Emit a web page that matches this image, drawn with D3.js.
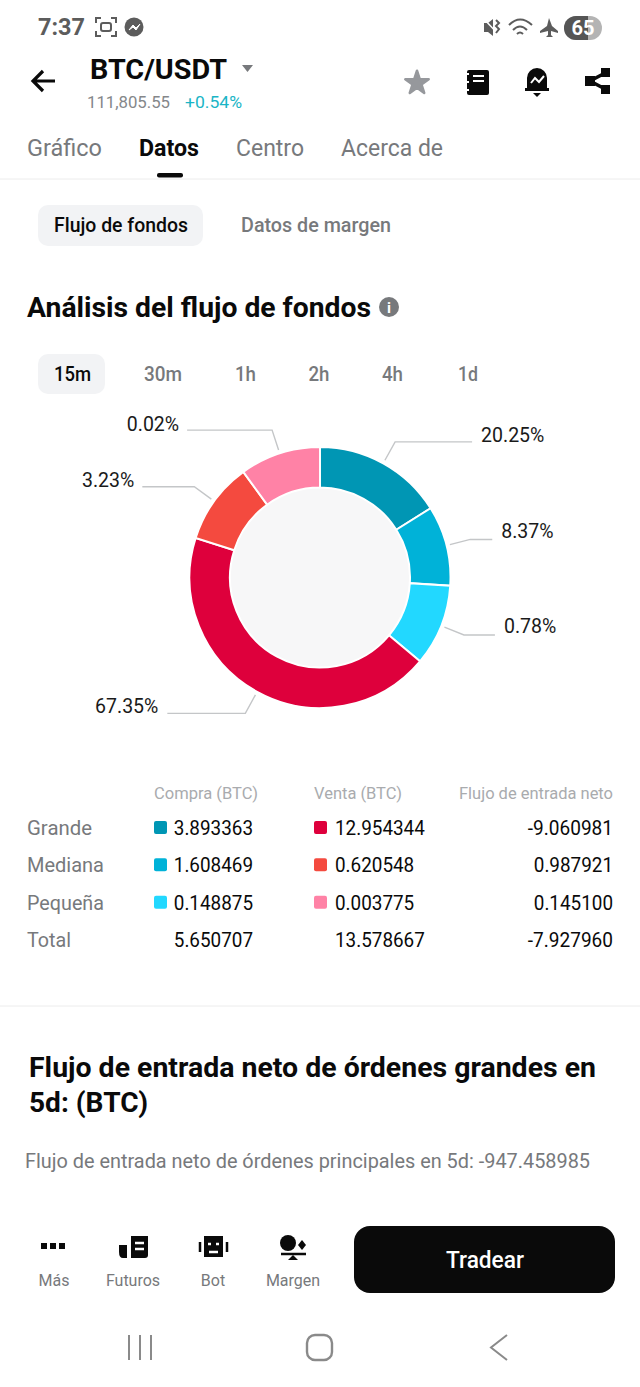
<!DOCTYPE html>
<html>
<head>
<meta charset="utf-8">
<script src="https://cdn.jsdelivr.net/npm/d3@7"></script>
<style>
  html, body { margin: 0; padding: 0; background: #fff; }
  svg { display: block; }
  text { font-family: Roboto, sans-serif; }
</style>
</head>
<body>
<div id="chart"></div>
<script>
// slice sizes as drawn (small slices are drawn bigger than their percent)
var sliceShares = [16.1, 9.9, 10.1, 43.8, 10.1, 10.0];
var percentLabels = ["20.25%", "8.37%", "0.78%", "67.35%", "3.23%", "0.02%"];
var sliceColors = ["#0096b4", "#00b2d8", "#22d8ff", "#de003c", "#f44a3f", "#ff82a6"];

var rowNames = ["Grande", "Mediana", "Pequeña", "Total"];
var buyValues = ["3.893363", "1.608469", "0.148875", "5.650707"];
var sellValues = ["12.954344", "0.620548", "0.003775", "13.578667"];
var netValues = ["-9.060981", "0.987921", "0.145100", "-7.927960"];
var columnHeads = ["Compra (BTC)", "Venta (BTC)", "Flujo de entrada neto"];

var timeFrames = ["15m", "30m", "1h", "2h", "4h", "1d"];
var tabNames = ["Gráfico", "Datos", "Centro", "Acerca de"];
var bottomNames = ["Más", "Futuros", "Bot", "Margen"];

var width = 640, height = 1387;
var svg = d3.select("#chart").append("svg")
    .attr("width", width)
    .attr("height", height)
    .attr("viewBox", `0 0 ${width} ${height}`);

var black = "#0a0a0a", gray = "#77797c", lightGray = "#a9abae";

function label(x, y, str, size, color, opts) {
    opts = opts || {};
    var t = svg.append("text")
        .attr("x", x)
        .attr("y", y)
        .attr("font-size", size)
        .attr("fill", color)
        .attr("font-weight", opts.weight || (opts.bold ? 700 : 400))
        .attr("text-anchor", opts.anchor || "start")
        .text(str);
    // the app font is narrower than Roboto
    if (opts.fit) {
        t.attr("textLength", opts.fit).attr("lengthAdjust", "spacingAndGlyphs");
    }
    return t;
}

// ---- status bar
label(38, 35, "7:37", 24, "#5c5c5c", {bold: true, fit: 47});
var shot = svg.append("g").attr("transform", "translate(106,27)")
    .attr("fill", "none").attr("stroke", "#5c5c5c").attr("stroke-width", 2);
shot.append("path").attr("d", "M-10,-4V-9H-5M5,-9H10V-4M10,4V9H5M-5,9H-10V4");
shot.append("rect").attr("x", -5).attr("y", -4).attr("width", 10).attr("height", 8).attr("rx", 2);
svg.append("circle").attr("cx", 134).attr("cy", 27).attr("r", 9.5).attr("fill", "#5c5c5c");
svg.append("path").attr("d", "M129,30L133,25L136,28L140,24L136,30L133,27Z")
    .attr("fill", "#fff").attr("stroke", "#fff");
svg.append("path").attr("d", "M484,23H488L493,19V36L488,32H484Z").attr("fill", "#5c5c5c");
svg.append("path").attr("d", "M483,18L500,36").attr("stroke", "#fff").attr("stroke-width", 1.5);
svg.append("path").attr("d", "M496,20L499,23L496,26L499,29L496,33").attr("fill", "none")
    .attr("stroke", "#5c5c5c").attr("stroke-width", 2);
svg.append("path").attr("d", "M509,25Q520,14 532,25M513,30Q520,23 527,30M517,34Q520,31 523,34")
    .attr("fill", "none").attr("stroke", "#5c5c5c").attr("stroke-width", 2);
svg.append("path").attr("d", "M549,18L552,26L558,31V33L551,31V35L553,37H546L548,35V31L540,33V31L547,26Z")
    .attr("fill", "#5c5c5c");
svg.append("rect").attr("x", 564).attr("y", 16).attr("width", 38).attr("height", 24).attr("rx", 12).attr("fill", "#b4b4b4");
svg.append("path").attr("d", "M576,16H588V40H576A12,12 0 0 1 576,16Z").attr("fill", "#555");
label(583, 35, "65", 20, "#fff", {anchor: "middle", bold: true});

// ---- header
svg.append("path").attr("d", "M55,81H33M43,71L33,81L43,91")
    .attr("fill", "none").attr("stroke", black).attr("stroke-width", 3.2);
label(90, 79, "BTC/USDT", 27, black, {bold: true, fit: 137});
svg.append("path").attr("d", "M242,65H253L247.5,72Z").attr("fill", "#77797c");
label(87, 108, "111,805.55", 17, "#85878a", {fit: 83});
label(185, 108, "+0.54%", 17, "#1ab5c6", {fit: 57});

svg.append("path")
    .attr("d", d3.symbol(d3.symbolStar, 170)())
    .attr("transform", "translate(417,83)")
    .attr("fill", "#96989c")
    .attr("stroke", "#96989c")
    .attr("stroke-width", 2.5)
    .attr("stroke-linejoin", "round");
svg.append("rect").attr("x", 467).attr("y", 70).attr("width", 22).attr("height", 25).attr("rx", 2).attr("fill", black);
svg.append("path").attr("d", "M473,76H484M473,81H484M465,74H469M465,82H469M465,90H469")
    .attr("stroke", "#fff").attr("stroke-width", 2);
svg.append("path").attr("d", "M527,88V78A10,10 0 0 1 547,78V88H549V91H525V88Z").attr("fill", black);
svg.append("path").attr("d", "M533,93H541L537,97Z").attr("fill", black);
svg.append("path").attr("d", "M531,83L535,78L539,82L544,76")
    .attr("fill", "none").attr("stroke", "#fff").attr("stroke-width", 2);
svg.append("path").attr("d", "M607,72L590,81L607,90").attr("fill", "none").attr("stroke", black).attr("stroke-width", 3.5);
svg.append("rect").attr("x", 601).attr("y", 68).attr("width", 9).attr("height", 9).attr("fill", black);
svg.append("rect").attr("x", 601).attr("y", 85).attr("width", 9).attr("height", 9).attr("fill", black);
svg.append("rect").attr("x", 585).attr("y", 76).attr("width", 10).attr("height", 10).attr("fill", black);

// ---- tabs
var tabX = [27, 139, 236, 341], tabW = [75, 60, 68, 102];
tabNames.forEach(function(name, i) {
    label(tabX[i], 156, name, 24, i === 1 ? black : gray, {bold: i === 1, fit: tabW[i]});
});
svg.append("rect").attr("x", 157).attr("y", 173).attr("width", 26).attr("height", 4.5).attr("rx", 2).attr("fill", black);
svg.append("line").attr("x1", 0).attr("x2", width).attr("y1", 179).attr("y2", 179).attr("stroke", "#ececec");

svg.append("rect").attr("x", 38).attr("y", 205).attr("width", 165).attr("height", 41).attr("rx", 10).attr("fill", "#f2f3f5");
label(54, 232, "Flujo de fondos", 20, black, {fit: 134, weight: 500});
label(241, 232, "Datos de margen", 20, gray, {fit: 150, weight: 500});

label(27, 317, "Análisis del flujo de fondos", 27, black, {bold: true, fit: 344});
svg.append("circle").attr("cx", 389).attr("cy", 307).attr("r", 10).attr("fill", "#77797c");
label(389, 313, "i", 15, "#fff", {anchor: "middle", bold: true});

// ---- time frames
var timeX = [72.5, 163, 245.5, 319, 392.5, 468];
var timeW = [37, 38, 21, 21, 21, 20];
svg.append("rect").attr("x", 38).attr("y", 354).attr("width", 67).attr("height", 40).attr("rx", 10).attr("fill", "#f2f3f5");
timeFrames.forEach(function(t, i) {
    label(timeX[i], 381, t, 20, i === 0 ? black : gray, {anchor: "middle", fit: timeW[i], weight: 500});
});

// ---- donut
var cx = 320, cy = 577.5, outerR = 130.5, innerR = 90;
var pie = d3.pie().sort(null).value(d => d);
var arc = d3.arc().innerRadius(innerR).outerRadius(outerR);
var slices = pie(sliceShares);
var donut = svg.append("g").attr("transform", `translate(${cx},${cy})`);

donut.append("circle").attr("r", innerR).attr("fill", "#f7f7f8");
donut.selectAll("path.slice")
    .data(slices)
    .enter()
    .append("path")
    .attr("class", "slice")
    .attr("d", arc)
    .attr("fill", (d, i) => sliceColors[i])
    .attr("stroke", "#fff")
    .attr("stroke-width", 2);

// leader lines: start and elbow sit on the mid angle of each slice
var lineStart = d3.arc().innerRadius(134).outerRadius(134);
var lineElbow = d3.arc().innerRadius(155).outerRadius(155);
var legLength = [77, 22, 31, 78, 52, 85];
var labelGap = [9, 9, 9, 9, 8, 8];
var labelDy = [0, -1, -2, 0, 0, 1];

slices.forEach(function(d, i) {
    var a = lineStart.centroid(d), b = lineElbow.centroid(d);
    var dir = b[0] > 0 ? 1 : -1;
    var endX = b[0] + dir * legLength[i];
    donut.append("path")
        .attr("d", d3.line()([a, b, [endX, b[1]]]))
        .attr("fill", "none")
        .attr("stroke", "#c4c6c8")
        .attr("stroke-width", 1.4);
    donut.append("text")
        .attr("x", endX + dir * labelGap[i])
        .attr("y", b[1] + labelDy[i])
        .attr("font-size", 19.5)
        .attr("fill", "#1a1a1a")
        .attr("text-anchor", dir > 0 ? "start" : "end")
        .text(percentLabels[i]);
});

// ---- table
var colRight = [258, 402, 613], colWidth = [104, 88, 154];
var rowY = d3.scalePoint().domain(rowNames).range([835, 947]);
columnHeads.forEach(function(h, i) {
    label(colRight[i], 799, h, 16, lightGray, {anchor: "end", fit: colWidth[i]});
});
var buyRight = 253, sellLeft = 335, netRight = 613;
// digits about 10.6 wide, dot 5, minus 6
function numWidth(s) {
    var digits = s.replace(/[^0-9]/g, "").length;
    return digits * 10.6 + 5 + (s[0] === "-" ? 6 : 0);
}

rowNames.forEach(function(name, i) {
    var y = rowY(name);
    label(27, y, name, 20, gray, {fit: name === "Total" ? 44 : name === "Grande" ? 65 : 77});
    label(buyRight, y, buyValues[i], 21, black, {anchor: "end", fit: numWidth(buyValues[i])});
    label(sellLeft, y, sellValues[i], 21, black, {fit: numWidth(sellValues[i])});
    label(netRight, y, netValues[i], 21, black, {anchor: "end", fit: numWidth(netValues[i])});
    if (i < 3) {
        svg.append("rect").attr("x", 154).attr("y", y - 14).attr("width", 13).attr("height", 13).attr("rx", 2).attr("fill", sliceColors[i]);
        svg.append("rect").attr("x", 314).attr("y", y - 14).attr("width", 13).attr("height", 13).attr("rx", 2).attr("fill", sliceColors[i + 3]);
    }
});

svg.append("line").attr("x1", 0).attr("x2", width).attr("y1", 1006).attr("y2", 1006).attr("stroke", "#ececec");

// ---- lower section
label(29, 1077, "Flujo de entrada neto de órdenes grandes en", 27, black, {bold: true, fit: 567});
label(29, 1112, "5d: (BTC)", 27, black, {bold: true, fit: 119});
label(25, 1168, "Flujo de entrada neto de órdenes principales en 5d: -947.458985", 20, gray, {fit: 565});

// ---- bottom bar
var bottomX = [54, 133, 213, 293];
bottomNames.forEach(function(name, i) {
    label(bottomX[i], 1286, name, 16, gray, {anchor: "middle"});
});
[41, 50, 59].forEach(function(x) {
    svg.append("rect").attr("x", x).attr("y", 1243).attr("width", 6).attr("height", 6).attr("fill", black);
});
svg.append("path").attr("d", "M131,1236H148V1255Q148,1258 145,1258H131Z").attr("fill", black);
svg.append("path").attr("d", "M119,1245H127V1258H123Q119,1258 119,1252Z").attr("fill", black);
svg.append("path").attr("d", "M135,1243H144M135,1249H144").attr("stroke", "#fff").attr("stroke-width", 2.5);
svg.append("rect").attr("x", 204).attr("y", 1236).attr("width", 19).attr("height", 21).attr("fill", black);
svg.append("path").attr("d", "M200,1242V1252M227,1242V1252").attr("stroke", black).attr("stroke-width", 2.5);
svg.append("path").attr("d", "M208,1244H211M216,1244H219M209,1252H218").attr("stroke", "#fff").attr("stroke-width", 2.5);
svg.append("circle").attr("cx", 288).attr("cy", 1243).attr("r", 8).attr("fill", black);
svg.append("path").attr("d", "M302,1240L306,1245L302,1250L298,1245Z").attr("fill", black);
svg.append("path").attr("d", "M281,1254H306").attr("stroke", black).attr("stroke-width", 2.5);
svg.append("path").attr("d", "M293,1255L298,1260H288Z").attr("fill", black);

svg.append("rect").attr("x", 354).attr("y", 1226).attr("width", 261).attr("height", 67).attr("rx", 16).attr("fill", black);
label(485, 1268, "Tradear", 24, "#fff", {anchor: "middle", fit: 78, weight: 500});

// ---- android nav
svg.append("path").attr("d", "M129,1335V1360M140,1335V1360M151,1335V1360").attr("stroke", "#8a8a8a").attr("stroke-width", 2);
svg.append("rect").attr("x", 307).attr("y", 1335).attr("width", 25).attr("height", 25).attr("rx", 8)
    .attr("fill", "none").attr("stroke", "#8a8a8a").attr("stroke-width", 2.4);
svg.append("path").attr("d", "M507,1335L491,1347.5L507,1360").attr("fill", "none").attr("stroke", "#8a8a8a").attr("stroke-width", 2);
</script>
</body>
</html>
